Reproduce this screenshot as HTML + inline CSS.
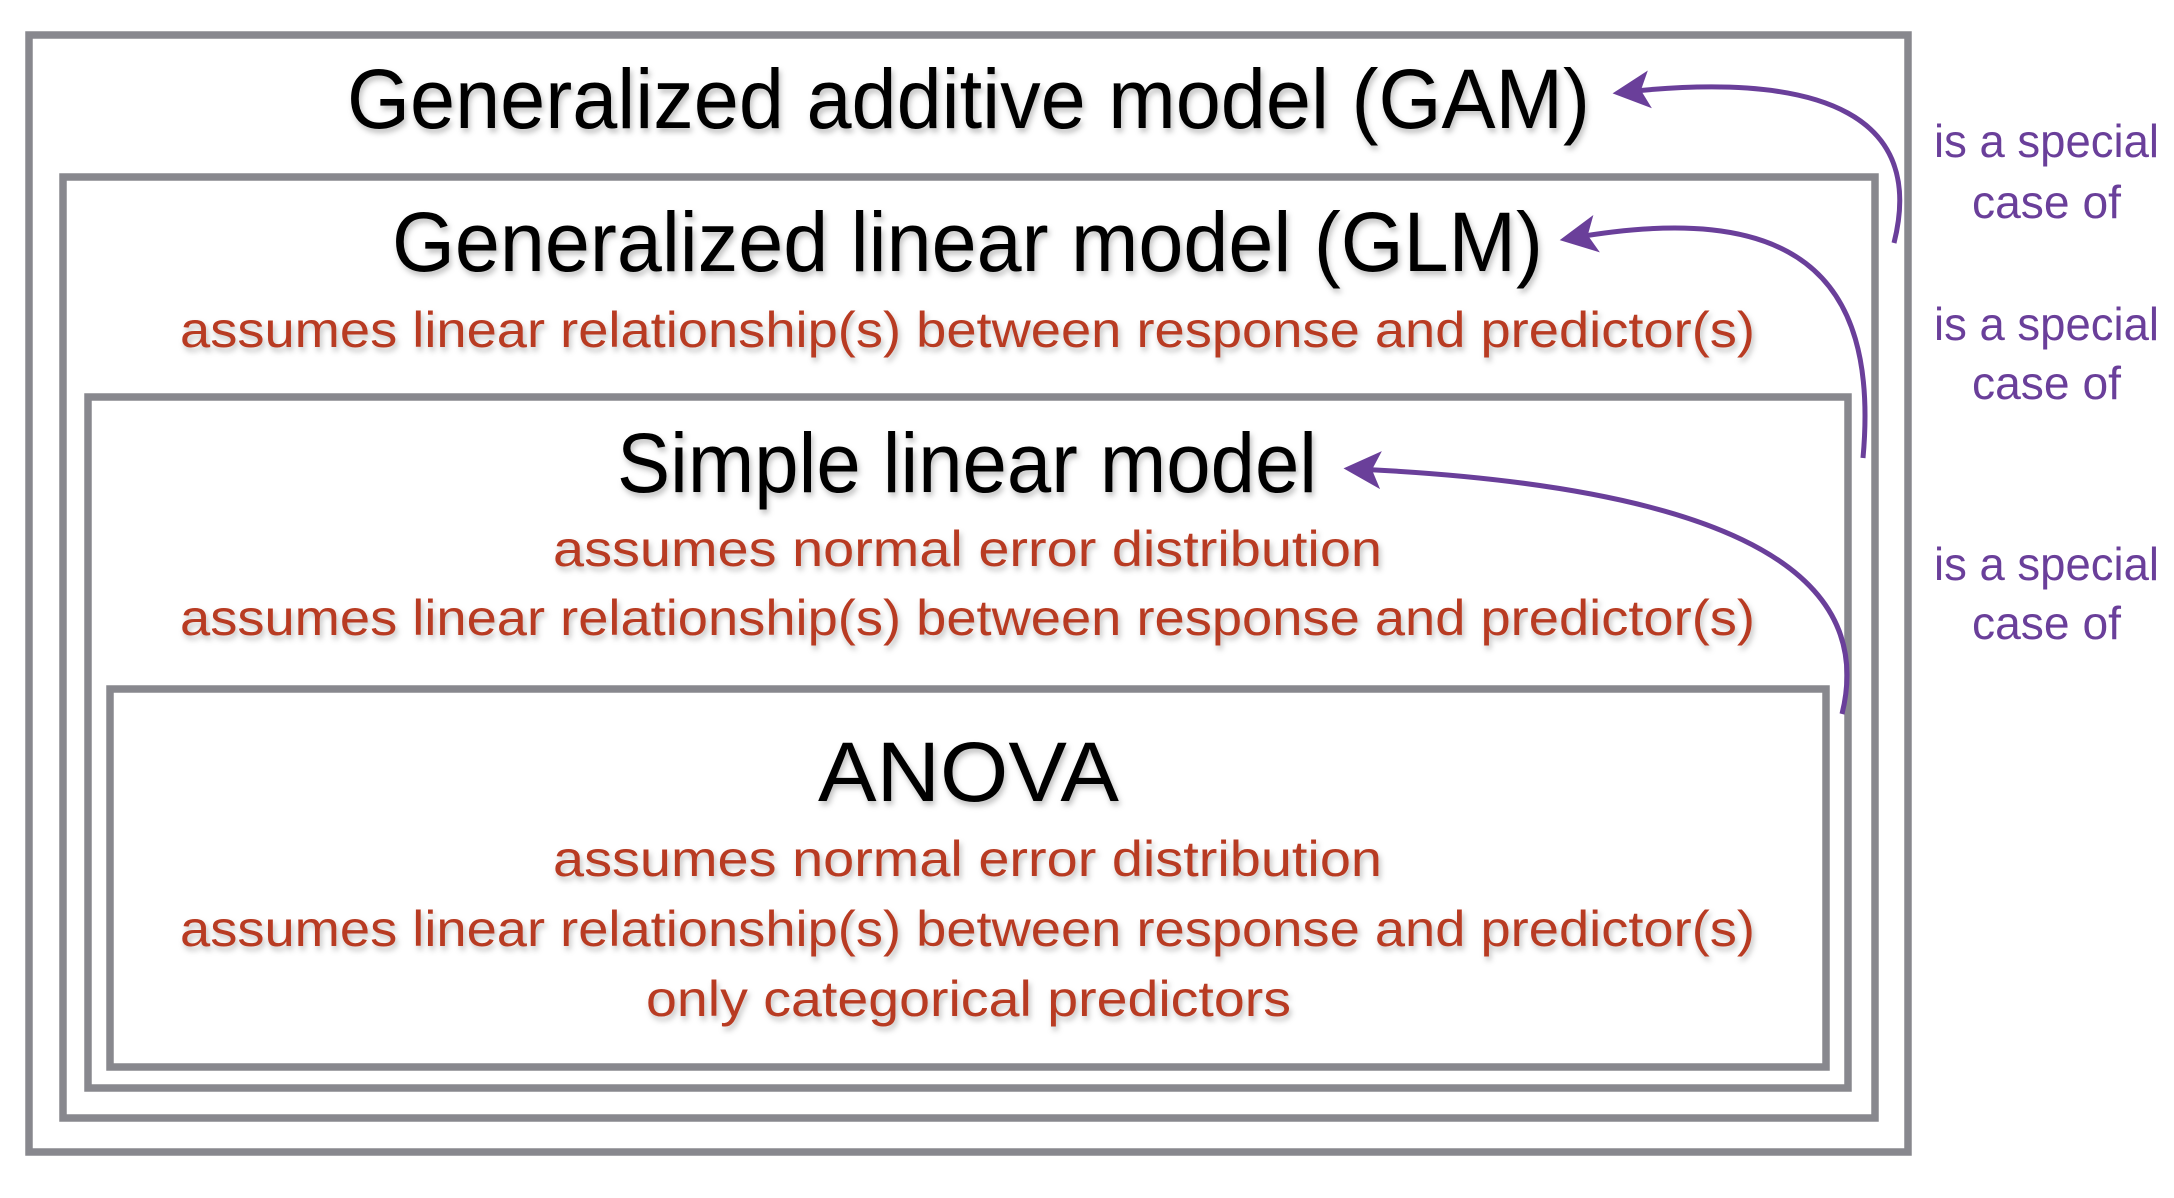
<!DOCTYPE html>
<html><head><meta charset="utf-8"><style>
html,body{margin:0;padding:0;background:#fff;}
svg{display:block;}
text{font-family:"Liberation Sans",sans-serif;}
.t{fill:#000;font-size:84px;}
.r{fill:#b83a22;font-size:50px;}
.p{fill:#6a3f9a;font-size:46px;}
</style></head><body>
<svg width="2174" height="1198" viewBox="0 0 2174 1198" xmlns="http://www.w3.org/2000/svg">
<defs>
<filter id="sh" x="-5%" y="-20%" width="110%" height="150%"><feDropShadow dx="2" dy="4" stdDeviation="3" flood-color="#000" flood-opacity="0.25"/></filter>
<marker id="ah" markerWidth="10" markerHeight="10" refX="5" refY="5" orient="auto" markerUnits="strokeWidth"><path d="M7.5,5 L0,1.2 L1.8,5 L0,8.8 Z" fill="#6a3f9a"/></marker>
</defs>
<g fill="none" stroke="#88888e" stroke-width="7.5">
<rect x="29" y="35" width="1879" height="1117"/>
<rect x="63" y="177" width="1812" height="941"/>
<rect x="88" y="397" width="1760" height="691"/>
<rect x="110" y="689" width="1716" height="378"/>
</g>
<g filter="url(#sh)">
<text class="t" x="347" y="128" textLength="1243" lengthAdjust="spacingAndGlyphs">Generalized additive model (GAM)</text>
<text class="t" x="392" y="271" textLength="1151" lengthAdjust="spacingAndGlyphs">Generalized linear model (GLM)</text>
<text class="r" x="180" y="347" textLength="1575" lengthAdjust="spacingAndGlyphs">assumes linear relationship(s) between response and predictor(s)</text>
<text class="t" x="617" y="492" textLength="700" lengthAdjust="spacingAndGlyphs">Simple linear model</text>
<text class="r" x="553" y="566" textLength="829" lengthAdjust="spacingAndGlyphs">assumes normal error distribution</text>
<text class="r" x="180" y="635" textLength="1575" lengthAdjust="spacingAndGlyphs">assumes linear relationship(s) between response and predictor(s)</text>
<text class="t" x="818" y="801" textLength="301" lengthAdjust="spacingAndGlyphs">ANOVA</text>
<text class="r" x="553" y="876" textLength="829" lengthAdjust="spacingAndGlyphs">assumes normal error distribution</text>
<text class="r" x="180" y="946" textLength="1575" lengthAdjust="spacingAndGlyphs">assumes linear relationship(s) between response and predictor(s)</text>
<text class="r" x="646" y="1016" textLength="645" lengthAdjust="spacingAndGlyphs">only categorical predictors</text>
</g>
<g>
<text class="p" x="1934" y="157" textLength="225" lengthAdjust="spacingAndGlyphs">is a special</text>
<text class="p" x="1972" y="218" textLength="149" lengthAdjust="spacingAndGlyphs">case of</text>
<text class="p" x="1934" y="340" textLength="225" lengthAdjust="spacingAndGlyphs">is a special</text>
<text class="p" x="1972" y="399" textLength="149" lengthAdjust="spacingAndGlyphs">case of</text>
<text class="p" x="1934" y="580" textLength="225" lengthAdjust="spacingAndGlyphs">is a special</text>
<text class="p" x="1972" y="639" textLength="149" lengthAdjust="spacingAndGlyphs">case of</text>
</g>
<g fill="none" stroke="#6a3f9a" stroke-width="5" marker-end="url(#ah)">
<path d="M1894 243 C1925 120 1830 70 1625 92"/>
<path d="M1863 458 C1880 270 1790 200 1572 238"/>
<path d="M1842 714 C1880 560 1700 485 1356 469"/>
</g>
</svg>
</body></html>
